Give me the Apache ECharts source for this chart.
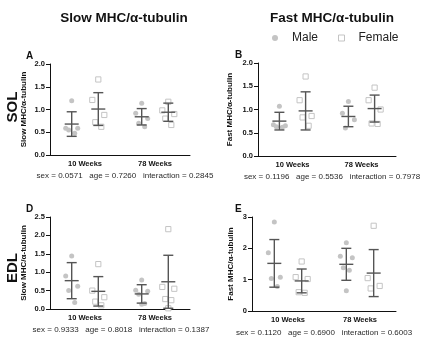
<!DOCTYPE html>
<html>
<head>
<meta charset="utf-8">
<script src="https://cdn.jsdelivr.net/npm/echarts@6/dist/echarts.min.js"></script>
<style>html,body{margin:0;padding:0;background:#fff}#c{width:424px;height:354px}</style>
</head>
<body>
<div id="c"></div>
<script>
// ---------- data ----------
const categories = ['10 Weeks', '78 Weeks'];

// Panel A: SOL, Slow MHC
const aMalePoints   = [[1.19, 0.59, 0.59, 0.55, 0.48], [1.14, 0.92, 0.80, 0.70, 0.62]];
const aFemalePoints = [[1.66, 1.21, 0.88, 0.72, 0.62], [1.17, 0.98, 0.90, 0.80, 0.66]];
const aMaleMean = [0.68, 0.84], aMaleSD = [0.27, 0.18];
const aFemaleMean = [1.01, 0.94], aFemaleSD = [0.36, 0.20];

// Panel B: SOL, Fast MHC
const bMalePoints   = [[1.07, 0.67, 0.65, 0.63, 0.62], [1.17, 0.92, 0.78, 0.60]];
const bFemalePoints = [[1.71, 1.20, 0.86, 0.83, 0.65], [1.47, 1.20, 1.00, 0.70, 0.69]];
const bMaleMean = [0.75, 0.85], bMaleSD = [0.19, 0.22];
const bFemaleMean = [0.97, 1.02], bFemaleSD = [0.41, 0.29];

// Panel D: EDL, Slow MHC
const dMalePoints   = [[1.44, 0.90, 0.62, 0.50, 0.18], [0.79, 0.51, 0.48, 0.40, 0.15, 0.13]];
const dFemalePoints = [[1.22, 0.50, 0.32, 0.20, 0.10], [2.17, 0.60, 0.55, 0.27, 0.24, 0.02]];
const dMaleMean = [0.77, 0.41], dMaleSD = [0.49, 0.25];
const dFemaleMean = [0.48, 0.74], dFemaleSD = [0.40, 0.72];

// Panel E: EDL, Fast MHC
const eMalePoints   = [[2.84, 1.86, 1.08, 1.04, 0.78], [2.18, 1.75, 1.70, 1.38, 1.30, 0.65]];
const eFemalePoints = [[1.58, 1.08, 1.02, 0.60, 0.58], [2.72, 1.05, 0.80, 0.72]];
const eMaleMean = [1.52, 1.49], eMaleSD = [0.76, 0.51];
const eFemaleMean = [0.96, 1.21], eFemaleSD = [0.38, 0.75];

const yMax = [2, 2, 2.5, 3];
const yInterval = [0.5, 0.5, 0.5, 1];
const yDecimals = [1, 1, 1, 0];
const yTitles = ['Slow MHC/\u03b1-tubulin', 'Fast MHC/\u03b1-tubulin', 'Slow MHC/\u03b1-tubulin', 'Fast MHC/\u03b1-tubulin'];
const panelLetters = ['A', 'B', 'D', 'E'];
const statsTexts = [
  'sex = 0.0571   age = 0.7260   interaction = 0.2845',
  'sex = 0.1196   age = 0.5536   interaction = 0.7978',
  'sex = 0.9333   age = 0.8018   interaction = 0.1387',
  'sex = 0.1120   age = 0.6900   interaction = 0.6003'
];
const columnTitles = ['Slow MHC/\u03b1-tubulin', 'Fast MHC/\u03b1-tubulin'];
const rowTitles = ['SOL', 'EDL'];
const legendNames = ['Male', 'Female'];

// ---------- layout / style ----------
const FONT = '"Liberation Sans", Arial, sans-serif';
const grids = [
  {left: 50, top: 64, width: 140, height: 91},
  {left: 258, top: 63, width: 138, height: 93},
  {left: 50, top: 217, width: 140, height: 92},
  {left: 252, top: 217, width: 144, height: 94}
];
const nameGaps = [22, 24, 22, 17];
const letterPos = [[26, 51], [235, 50], [26, 204], [235, 204]];
const statsPos = [[125, 176], [332, 177], [121, 330], [324, 333]];
const POINT = '#c4c4c4', BAR = '#555555';
const SIDE = 0.19;
const jitter = [0, -6, 6, -3, 3, 0];

const panels = [
  [aMalePoints, aFemalePoints, aMaleMean, aMaleSD, aFemaleMean, aFemaleSD],
  [bMalePoints, bFemalePoints, bMaleMean, bMaleSD, bFemaleMean, bFemaleSD],
  [dMalePoints, dFemalePoints, dMaleMean, dMaleSD, dFemaleMean, dFemaleSD],
  [eMalePoints, eFemalePoints, eMaleMean, eMaleSD, eFemaleMean, eFemaleSD]
];

function pointsData(groups) {
  const out = [];
  groups.forEach((vals, ci) => vals.forEach((v, k) => out.push([ci, v, k])));
  return out;
}
function barData(means, sds) {
  return means.map((m, ci) => [ci, m, sds[ci]]);
}
function pointRender(side, male) {
  return function (params, api) {
    const c = api.coord([api.value(0), api.value(1)]);
    const band = api.size([1, 0])[0];
    const x = c[0] + side * SIDE * band + jitter[api.value(2) % jitter.length];
    if (male) {
      return {type: 'circle', shape: {cx: x, cy: c[1], r: 2.5}, style: {fill: POINT}};
    }
    return {type: 'rect', shape: {x: x - 2.6, y: c[1] - 2.6, width: 5.2, height: 5.2},
      style: {fill: '#fff', stroke: POINT, lineWidth: 1}};
  };
}
function barRender(side) {
  return function (params, api) {
    const m = api.value(1), sd = api.value(2);
    const cm = api.coord([api.value(0), m]);
    const hi = api.coord([api.value(0), m + sd]);
    const lo = api.coord([api.value(0), m - sd]);
    const band = api.size([1, 0])[0];
    const x = cm[0] + side * SIDE * band;
    const st = {stroke: BAR, lineWidth: 1.4};
    return {type: 'group', children: [
      {type: 'line', shape: {x1: x, y1: hi[1], x2: x, y2: lo[1]}, style: st},
      {type: 'line', shape: {x1: x - 5, y1: hi[1], x2: x + 5, y2: hi[1]}, style: st},
      {type: 'line', shape: {x1: x - 5, y1: lo[1], x2: x + 5, y2: lo[1]}, style: st},
      {type: 'line', shape: {x1: x - 7, y1: cm[1], x2: x + 7, y2: cm[1]}, style: st}
    ]};
  };
}

const xAxis = [], yAxis = [], series = [], graphic = [];
grids.forEach((g, i) => {
  xAxis.push({
    gridIndex: i, type: 'category', data: categories, boundaryGap: true,
    axisLine: {lineStyle: {color: '#111', width: 1}},
    axisTick: {alignWithLabel: true, length: 4, lineStyle: {color: '#111'}},
    axisLabel: {color: '#111', fontWeight: 'bold', fontSize: 7.5, fontFamily: FONT, margin: 5},
    splitLine: {show: false}
  });
  yAxis.push({
    gridIndex: i, type: 'value', min: 0, max: yMax[i], interval: yInterval[i],
    name: yTitles[i], nameLocation: 'middle', nameGap: nameGaps[i],
    nameTextStyle: {color: '#111', fontWeight: 'bold', fontSize: 8, fontFamily: FONT},
    axisLine: {show: true, lineStyle: {color: '#111', width: 1}},
    axisTick: {show: true, length: 4, lineStyle: {color: '#111'}},
    axisLabel: {color: '#111', fontWeight: 'bold', fontSize: 7.5, fontFamily: FONT, margin: 5,
      formatter: v => v.toFixed(yDecimals[i])},
    splitLine: {show: false}
  });
  const p = panels[i];
  series.push({type: 'custom', name: 'Male', xAxisIndex: i, yAxisIndex: i, z: 2,
    itemStyle: {color: POINT}, data: pointsData(p[0]), renderItem: pointRender(-1, true)});
  series.push({type: 'custom', name: 'Female', xAxisIndex: i, yAxisIndex: i, z: 2,
    itemStyle: {color: POINT}, data: pointsData(p[1]), renderItem: pointRender(1, false)});
  series.push({type: 'custom', name: 'Male mean ± SD', xAxisIndex: i, yAxisIndex: i, z: 3,
    data: barData(p[2], p[3]), renderItem: barRender(-1)});
  series.push({type: 'custom', name: 'Female mean ± SD', xAxisIndex: i, yAxisIndex: i, z: 3,
    data: barData(p[4], p[5]), renderItem: barRender(1)});

  graphic.push({type: 'text', left: letterPos[i][0], top: letterPos[i][1],
    style: {text: panelLetters[i], font: 'bold 10px ' + FONT, fill: '#111'}});
  graphic.push({type: 'text', x: statsPos[i][0], y: statsPos[i][1],
    style: {text: statsTexts[i], font: '8px ' + FONT, fill: '#2a2a2a', align: 'center', verticalAlign: 'middle'}});
});

graphic.push({type: 'text', x: 124, y: 18,
  style: {text: columnTitles[0], font: 'bold 13.5px ' + FONT, fill: '#111', align: 'center', verticalAlign: 'middle'}});
graphic.push({type: 'text', x: 332, y: 18,
  style: {text: columnTitles[1], font: 'bold 13.5px ' + FONT, fill: '#111', align: 'center', verticalAlign: 'middle'}});
graphic.push({type: 'text', x: 13, y: 107, rotation: Math.PI / 2,
  style: {text: rowTitles[0], font: 'bold 15px ' + FONT, fill: '#111', align: 'center', verticalAlign: 'middle'}});
graphic.push({type: 'text', x: 13, y: 268, rotation: Math.PI / 2,
  style: {text: rowTitles[1], font: 'bold 15px ' + FONT, fill: '#111', align: 'center', verticalAlign: 'middle'}});

const chart = echarts.init(document.getElementById('c'), null, {renderer: 'canvas'});
chart.setOption({
  animation: false,
  backgroundColor: '#fff',
  grid: grids,
  xAxis: xAxis,
  yAxis: yAxis,
  series: series,
  graphic: graphic,
  legend: {
    data: [
      {name: legendNames[0], icon: 'circle', itemStyle: {color: POINT}},
      {name: legendNames[1], icon: 'rect', itemStyle: {color: '#fff', borderColor: POINT, borderWidth: 1}}
    ],
    left: 267, top: 27, itemWidth: 6, itemHeight: 6, itemGap: 20, selectedMode: false,
    textStyle: {fontSize: 12, color: '#222', fontFamily: FONT, padding: [0, 0, 0, 9]}
  }
});
</script>
</body>
</html>
